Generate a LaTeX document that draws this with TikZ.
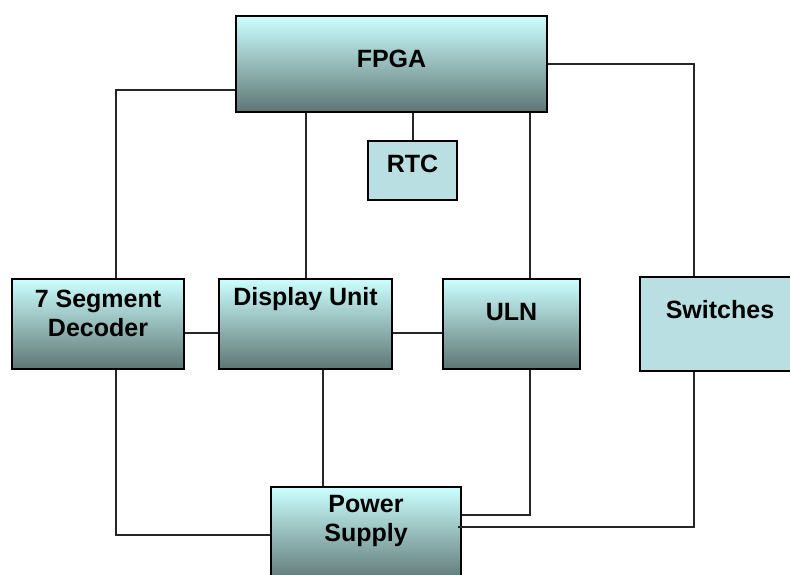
\documentclass[tikz,border=0pt]{standalone}
\usepackage{fontspec}
\setmainfont{Liberation Sans}
\usetikzlibrary{positioning,calc}
\definecolor{blocktop}{RGB}{204,255,255}
\definecolor{blockbot}{RGB}{94,118,116}
\definecolor{blockflat}{RGB}{186,223,226}
\tikzset{
  block/.style={
    rectangle,
    draw=black, line width=2.2pt,
    top color=blocktop,
    bottom color=blockbot,
    inner sep=0pt},
  flatblock/.style={
    rectangle,
    draw=black, line width=2.2pt,
    fill=blockflat,
    inner sep=0pt},
  blocktext/.style={
    font=\bfseries\fontsize{25}{29}\selectfont,
    align=center,
    inner sep=0pt},
}

\begin{document}
\begin{tikzpicture}[
    x=1pt, y=-1pt,
    link/.style={draw=black!85, line width=2pt},
    ]
    \useasboundingbox (0,0) rectangle (790,574);
    \clip (0,0) rectangle (790,574);

    % blocks
    \node[block, minimum width=311pt, minimum height=96pt,
        label={[blocktext, yshift=5pt]center:FPGA}] (fpga) at (391.5,64) {};
    \node[flatblock, minimum width=89pt, minimum height=59pt,
        label={[blocktext, yshift=7pt]center:RTC}] (rtc) at (412.5,170.5) {};
    \node[block, minimum width=172pt, minimum height=90pt,
        label={[blocktext, yshift=11pt]center:7 Segment\\Decoder}] (seg) at (98,324) {};
    \node[block, minimum width=173pt, minimum height=90pt,
        label={[blocktext, yshift=25pt]center:Display Unit}] (disp) at (305.5,324) {};
    \node[block, minimum width=137pt, minimum height=90pt,
        label={[blocktext, yshift=12pt]center:ULN}] (uln) at (511.5,324) {};
    \node[flatblock, minimum width=160pt, minimum height=94pt,
        label={[blocktext, yshift=14pt]center:Switches}] (sw) at (720,324) {};
    \node[block, minimum width=190pt, minimum height=95pt,
        label={[blocktext, yshift=14pt]center:Power\\Supply}] (ps) at (366,534.5) {};

    % links from FPGA
    \draw[link] ([yshift=-26pt]fpga.west) -| ([xshift=18pt]seg.north);
    \draw[link] (fpga.east) -| ([xshift=-26pt]sw.north);
    \draw[link] (disp.north |- fpga.south) -- (disp.north);
    \draw[link] ([xshift=18pt]uln.north |- fpga.south) -- ([xshift=18pt]uln.north);
    \draw[link] (fpga.south -| rtc.north) -- (rtc.north);

    % links between blocks
    \draw[link] ([yshift=-9pt]seg.east) -- ([yshift=-9pt]disp.west);
    \draw[link] ([yshift=-9pt]disp.east) -- ([yshift=-9pt]uln.west);

    % links to power supply
    \draw[link] ([xshift=18pt]seg.south) |- (ps.west);
    \draw[link] ([xshift=17pt]disp.south) -- ([xshift=17pt]disp.south |- ps.north);
    \draw[link] ([xshift=18pt]uln.south) |- ([yshift=20pt]ps.east);
    \draw[link] ([xshift=-26pt]sw.south) |- ([xshift=-4pt,yshift=8pt]ps.east);
\end{tikzpicture}
\end{document}
